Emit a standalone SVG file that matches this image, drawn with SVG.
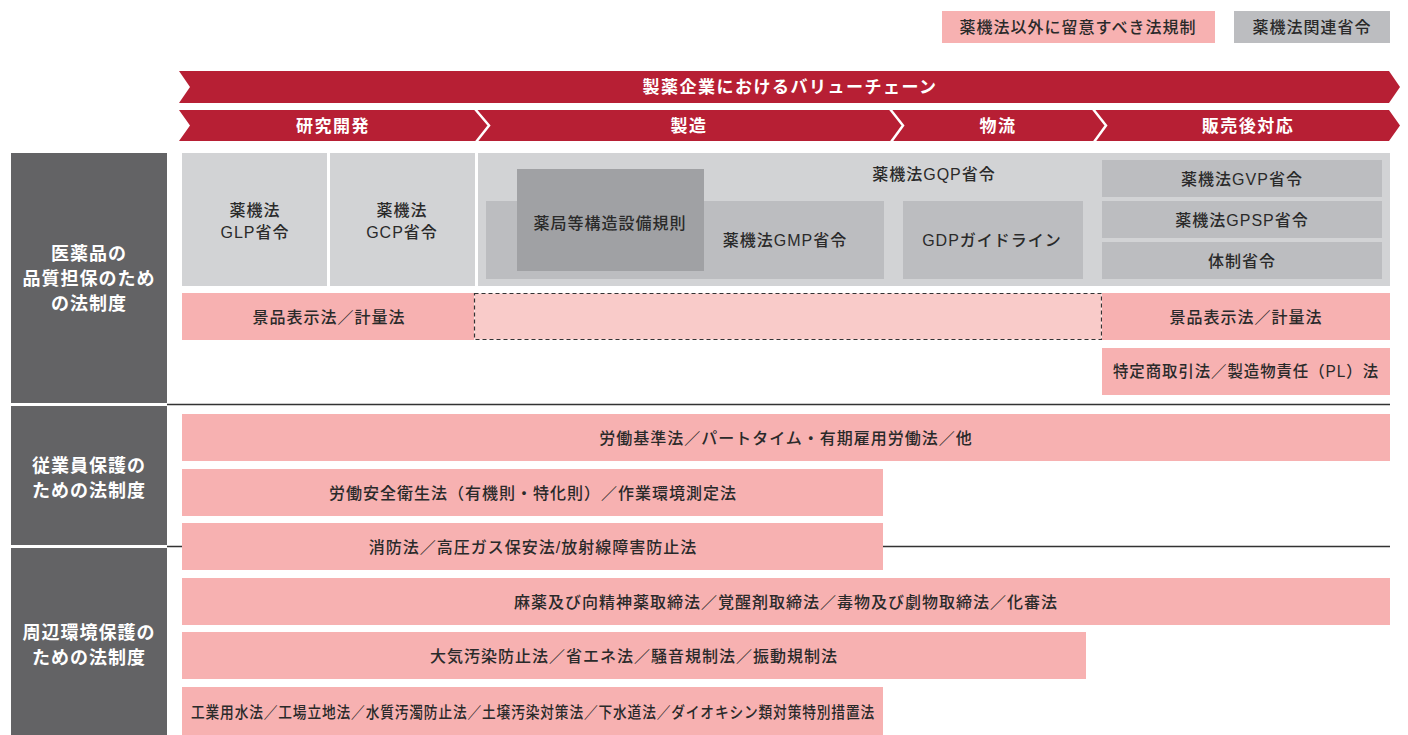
<svg xmlns="http://www.w3.org/2000/svg" width="1408" height="735" viewBox="0 0 1408 735">
<style>
  .t { font-family: "Liberation Sans", "Noto Sans CJK JP", sans-serif; font-size: 16px; font-weight: 500; fill: #2a2a2a; text-anchor: middle; dominant-baseline: central; letter-spacing: 1px; }
  .hd { font-family: "Liberation Sans", "Noto Sans CJK JP", sans-serif; font-size: 17px; font-weight: bold; fill: #ffffff; text-anchor: middle; dominant-baseline: central; letter-spacing: 1.5px; }
  .cat { font-family: "Liberation Sans", "Noto Sans CJK JP", sans-serif; font-size: 18px; font-weight: bold; fill: #ffffff; text-anchor: middle; dominant-baseline: central; letter-spacing: 1px; }
  .pink { fill: #f7b1b1; }
  .pinkl { fill: #f9cbc9; stroke: #333333; stroke-width: 1.2; stroke-dasharray: 4 3; }
  .lg { fill: #d2d3d5; }
  .mg { fill: #bcbdc0; }
  .dg { fill: #a0a1a4; }
  .red { fill: #b71f34; }
  .cat-bg { fill: #636365; }
  .sep { stroke: #ffffff; stroke-width: 2.5; fill: none; }
  .rule { stroke: #333333; stroke-width: 1.3; }
</style>

<!-- legend -->
<g id="legend">
  <rect class="pink" x="942" y="11" width="273" height="32"/>
  <text class="t" x="1078" y="27">薬機法以外に留意すべき法規制</text>
  <rect class="mg" x="1234" y="11" width="156" height="32"/>
  <text class="t" x="1312" y="27">薬機法関連省令</text>
</g>

<!-- header arrows -->
<g id="value-chain">
  <polygon class="red" points="179,71 1389,71 1400,87 1389,103 179,103 190,87"/>
  <text class="hd" x="790" y="87">製薬企業におけるバリューチェーン</text>
</g>
<g id="stages">
  <polygon class="red" points="179,110 1389,110 1400,125.5 1389,141 179,141 190,125.5"/>
  <polyline class="sep" points="475,109 489,125.5 476,142"/>
  <polyline class="sep" points="890,109 903,125.5 891,142"/>
  <polyline class="sep" points="1093,109 1106,125.5 1094,142"/>
  <text class="hd" x="333" y="126">研究開発</text>
  <text class="hd" x="689" y="126">製造</text>
  <text class="hd" x="998" y="126">物流</text>
  <text class="hd" x="1248" y="126">販売後対応</text>
</g>

<!-- category labels -->
<g id="cat-quality">
  <rect class="cat-bg" x="11" y="153" width="156" height="250"/>
  <text class="cat" x="89" y="254">医薬品の</text>
  <text class="cat" x="89" y="279">品質担保のため</text>
  <text class="cat" x="89" y="304">の法制度</text>
</g>
<g id="cat-employee">
  <rect class="cat-bg" x="11" y="406" width="156" height="139"/>
  <text class="cat" x="89" y="466">従業員保護の</text>
  <text class="cat" x="89" y="491">ための法制度</text>
</g>
<g id="cat-environment">
  <rect class="cat-bg" x="11" y="548" width="156" height="187"/>
  <text class="cat" x="89" y="633">周辺環境保護の</text>
  <text class="cat" x="89" y="658">ための法制度</text>
</g>

<!-- rules -->
<g id="connectors">
  <line class="rule" x1="167" y1="404.5" x2="1390" y2="404.5"/>
  <line class="rule" x1="167" y1="546.5" x2="1390" y2="546.5"/>
</g>

<!-- quality section -->
<g id="glp">
  <rect class="lg" x="182" y="153" width="145" height="133"/>
  <text class="t" x="255" y="210">薬機法</text>
  <text class="t" x="255" y="232">GLP省令</text>
</g>
<g id="gcp">
  <rect class="lg" x="330" y="153" width="145" height="133"/>
  <text class="t" x="402" y="210">薬機法</text>
  <text class="t" x="402" y="232">GCP省令</text>
</g>
<g id="gqp">
  <rect class="lg" x="478" y="153" width="912" height="133"/>
  <text class="t" x="934" y="174">薬機法GQP省令</text>
</g>
<g id="gmp">
  <rect class="mg" x="486" y="201" width="398" height="78"/>
  <text class="t" x="785" y="240">薬機法GMP省令</text>
</g>
<g id="pharmacy-rules">
  <rect class="dg" x="517" y="169" width="187" height="102"/>
  <text class="t" x="610" y="223">薬局等構造設備規則</text>
</g>
<g id="gdp">
  <rect class="mg" x="903" y="201" width="180" height="78"/>
  <text class="t" x="992" y="240">GDPガイドライン</text>
</g>
<g id="gvp">
  <rect class="mg" x="1102" y="160" width="280" height="37"/>
  <text class="t" x="1242" y="179">薬機法GVP省令</text>
</g>
<g id="gpsp">
  <rect class="mg" x="1102" y="201" width="280" height="37"/>
  <text class="t" x="1242" y="220">薬機法GPSP省令</text>
</g>
<g id="taisei">
  <rect class="mg" x="1102" y="242" width="280" height="37"/>
  <text class="t" x="1242" y="261">体制省令</text>
</g>
<g id="keihin-left">
  <rect class="pink" x="182" y="293" width="292" height="47"/>
  <text class="t" x="329" y="317">景品表示法／計量法</text>
</g>
<g id="keihin-mid">
  <rect class="pinkl" x="474.5" y="293.5" width="627" height="46"/>
</g>
<g id="keihin-right">
  <rect class="pink" x="1102" y="293" width="288" height="47"/>
  <text class="t" x="1246" y="317">景品表示法／計量法</text>
</g>
<g id="tokutei">
  <rect class="pink" x="1102" y="348" width="288" height="47"/>
  <text class="t" x="1246" y="371" textLength="266" lengthAdjust="spacingAndGlyphs">特定商取引法／製造物責任（PL）法</text>
</g>

<!-- employee section -->
<g id="labor-std">
  <rect class="pink" x="182" y="414" width="1208" height="47"/>
  <text class="t" x="786" y="438">労働基準法／パートタイム・有期雇用労働法／他</text>
</g>
<g id="labor-safety">
  <rect class="pink" x="182" y="469" width="701" height="47"/>
  <text class="t" x="533" y="493">労働安全衛生法（有機則・特化則）／作業環境測定法</text>
</g>
<g id="fire">
  <rect class="pink" x="182" y="523" width="701" height="47"/>
  <text class="t" x="533" y="547">消防法／高圧ガス保安法/放射線障害防止法</text>
</g>

<!-- environment section -->
<g id="drugs">
  <rect class="pink" x="182" y="578" width="1208" height="47"/>
  <text class="t" x="786" y="602">麻薬及び向精神薬取締法／覚醒剤取締法／毒物及び劇物取締法／化審法</text>
</g>
<g id="air">
  <rect class="pink" x="182" y="632" width="904" height="47"/>
  <text class="t" x="634" y="656">大気汚染防止法／省エネ法／騒音規制法／振動規制法</text>
</g>
<g id="water">
  <rect class="pink" x="182" y="687" width="701" height="48"/>
  <text class="t" x="533" y="712" textLength="684" lengthAdjust="spacingAndGlyphs">工業用水法／工場立地法／水質汚濁防止法／土壌汚染対策法／下水道法／ダイオキシン類対策特別措置法</text>
</g>
</svg>
